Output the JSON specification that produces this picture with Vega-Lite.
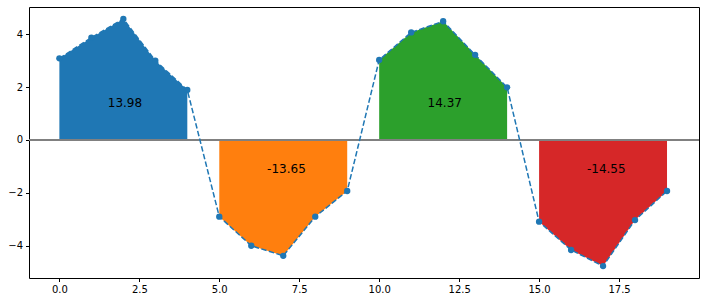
{
  "$schema": "https://vega.github.io/schema/vega-lite/v6.json",
  "width": 670,
  "height": 271,
  "autosize": {"type": "none"},
  "padding": {"left": 29, "top": 7, "right": 6, "bottom": 25},
  "background": "white",
  "config": {
    "view": {"stroke": "#000000", "strokeWidth": 1},
    "axis": {"grid": false, "domain": false, "tickColor": "#000000", "tickSize": 3.5, "labelFont": "DejaVu Sans", "labelFontSize": 10, "labelColor": "#000000", "labelPadding": 3, "title": null}
  },
  "datasets": {
    "pts": [
      {"x": 0, "y": 3.09, "seg": "a"},
      {"x": 1, "y": 3.87, "seg": "a"},
      {"x": 2, "y": 4.58, "seg": "a"},
      {"x": 3, "y": 3.0, "seg": "a"},
      {"x": 4, "y": 1.89, "seg": "a"},
      {"x": 5, "y": -2.9, "seg": "b"},
      {"x": 6, "y": -4.0, "seg": "b"},
      {"x": 7, "y": -4.38, "seg": "b"},
      {"x": 8, "y": -2.9, "seg": "b"},
      {"x": 9, "y": -1.93, "seg": "b"},
      {"x": 10, "y": 3.03, "seg": "c"},
      {"x": 11, "y": 4.07, "seg": "c"},
      {"x": 12, "y": 4.49, "seg": "c"},
      {"x": 13, "y": 3.22, "seg": "c"},
      {"x": 14, "y": 1.99, "seg": "c"},
      {"x": 15, "y": -3.09, "seg": "d"},
      {"x": 16, "y": -4.16, "seg": "d"},
      {"x": 17, "y": -4.77, "seg": "d"},
      {"x": 18, "y": -3.03, "seg": "d"},
      {"x": 19, "y": -1.93, "seg": "d"}
    ],
    "labels": [
      {"x": 2.05, "y": 1.4, "t": "13.98"},
      {"x": 7.1, "y": -1.1, "t": "-13.65"},
      {"x": 12.05, "y": 1.4, "t": "14.37"},
      {"x": 17.1, "y": -1.1, "t": "-14.55"}
    ],
    "zero": [{"y": 0}]
  },
  "layer": [
    {
      "data": {"name": "pts"},
      "mark": {"type": "area", "opacity": 1},
      "encoding": {
        "x": {"field": "x", "type": "quantitative", "scale": {"domain": [-0.95, 20], "nice": false, "zero": false}, "axis": {"values": [0, 2.5, 5, 7.5, 10, 12.5, 15, 17.5], "format": ".1f"}},
        "y": {"field": "y", "type": "quantitative", "scale": {"domain": [-5.22, 5.03], "nice": false, "zero": false}, "axis": {"values": [-4, -2, 0, 2, 4], "format": "d"}},
        "y2": {"datum": 0},
        "color": {"field": "seg", "type": "nominal", "scale": {"domain": ["a", "b", "c", "d"], "range": ["#1f77b4", "#ff7f0e", "#2ca02c", "#d62728"]}, "legend": null}
      }
    },
    {
      "data": {"name": "zero"},
      "mark": {"type": "rule", "color": "#808080", "strokeWidth": 2},
      "encoding": {"y": {"field": "y", "type": "quantitative"}}
    },
    {
      "data": {"name": "pts"},
      "mark": {"type": "line", "color": "#1f77b4", "strokeWidth": 1.5, "strokeDash": [5.5, 2.4], "point": {"filled": true, "size": 40, "color": "#1f77b4", "opacity": 1}},
      "encoding": {
        "x": {"field": "x", "type": "quantitative"},
        "y": {"field": "y", "type": "quantitative"}
      }
    },
    {
      "data": {"name": "labels"},
      "mark": {"type": "text", "font": "DejaVu Sans", "fontSize": 12, "color": "#000000", "align": "center", "baseline": "middle"},
      "encoding": {
        "x": {"field": "x", "type": "quantitative"},
        "y": {"field": "y", "type": "quantitative"},
        "text": {"field": "t"}
      }
    }
  ]
}
